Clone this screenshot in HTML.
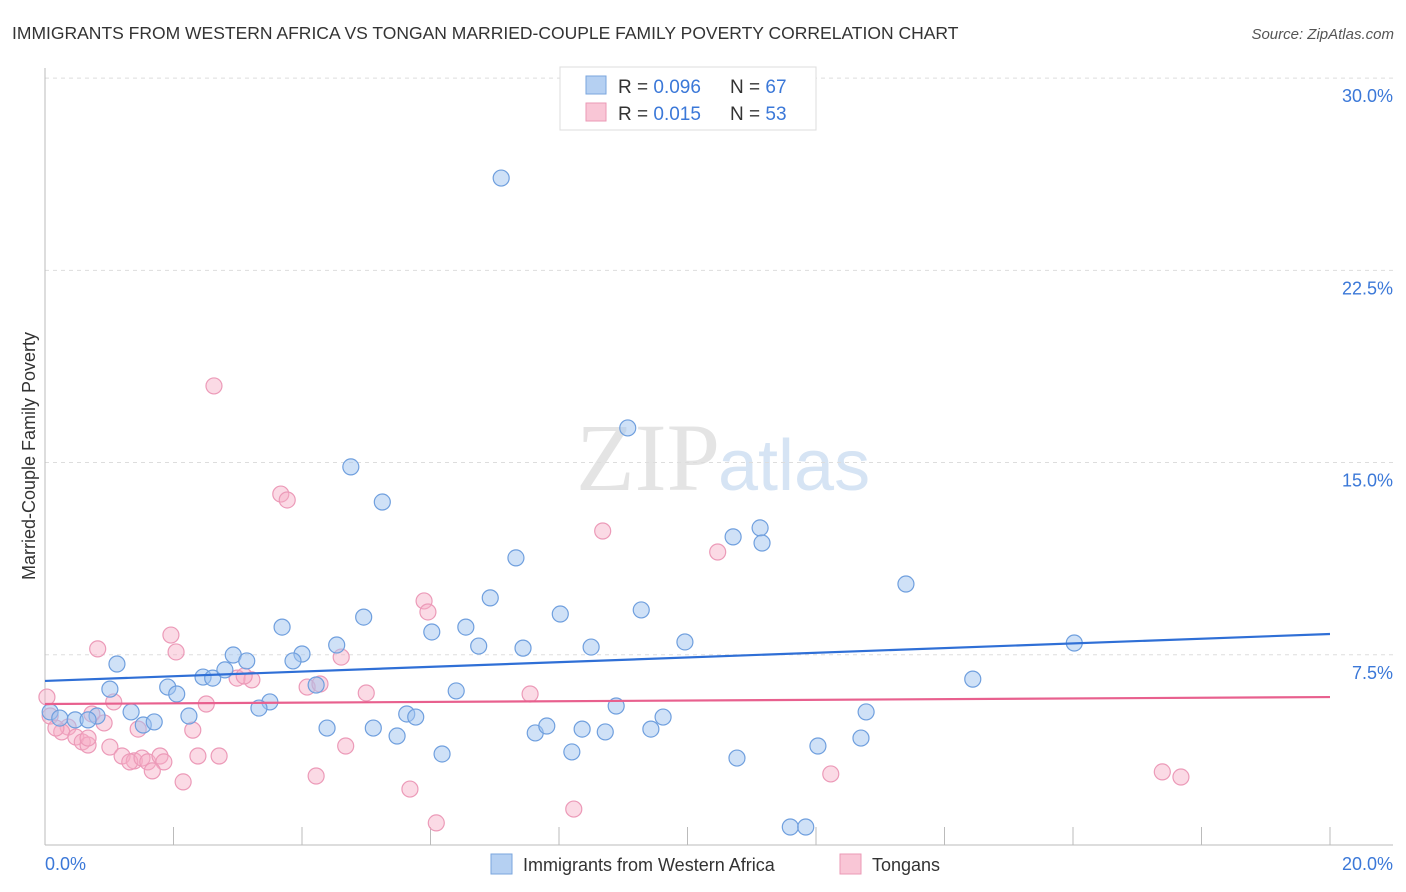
<!DOCTYPE html>
<html><head><meta charset="utf-8"><style>
body{margin:0;background:#fff;font-family:"Liberation Sans",sans-serif;}
#wrap{position:relative;width:1406px;height:892px;overflow:hidden;}
</style></head><body>
<div id="wrap">
<svg id="svg" width="1406" height="892" xmlns="http://www.w3.org/2000/svg">
<text x="12" y="39" font-size="17.5" fill="#333">IMMIGRANTS FROM WESTERN AFRICA VS TONGAN MARRIED-COUPLE FAMILY POVERTY CORRELATION CHART</text>
<text x="1394" y="39" font-size="15" fill="#555" font-style="italic" text-anchor="end">Source: ZipAtlas.com</text>
<text x="35" y="456" font-size="18" fill="#333" text-anchor="middle" transform="rotate(-90 35 456)">Married-Couple Family Poverty</text>
<text x="720" y="490" font-size="96" fill="#e4e4e4" text-anchor="end" font-family="Liberation Serif,serif">ZIP</text>
<text x="718" y="490" font-size="72" fill="#d6e4f4">atlas</text>
<g id="grid"></g><g id="pts"></g><g id="trend"></g>
<rect x="560" y="67" width="256" height="63" fill="#fff" stroke="#ddd"/>
<rect x="586" y="76" width="20" height="18" fill="#b5d0f2" stroke="#7aa6de"/>
<rect x="586" y="103" width="20" height="18" fill="#f9c6d6" stroke="#eb99b6"/>
<text x="618" y="93" font-size="19" fill="#333">R = <tspan fill="#3b78d8">0.096</tspan></text>
<text x="730" y="93" font-size="19" fill="#333">N = <tspan fill="#3b78d8">67</tspan></text>
<text x="618" y="120" font-size="19" fill="#333">R =  <tspan fill="#3b78d8">0.015</tspan></text>
<text x="730" y="120" font-size="19" fill="#333">N = <tspan fill="#3b78d8">53</tspan></text>
<rect x="491" y="854" width="21" height="20" fill="#b5d0f2" stroke="#7aa6de"/>
<text x="523" y="871" font-size="18" fill="#333">Immigrants from Western Africa</text>
<rect x="840" y="854" width="21" height="20" fill="#f9c6d6" stroke="#eb99b6"/>
<text x="872" y="871" font-size="18" fill="#333">Tongans</text>
</svg>
</div>
<script>
const blueX=[7.10,9.07,4.76,5.25,7.33,10.71,11.13,11.16,13.40,6.93,4.96,8.02,9.28,3.69,6.02,6.55,4.54,6.75,7.44,8.50,9.96,16.02,1.12,2.93,3.14,4.00,3.86,2.46,2.61,2.80,1.01,1.91,2.05,14.44,4.22,6.40,3.50,3.33,1.34,2.24,5.63,5.77,8.89,9.62,12.78,0.08,0.23,0.47,0.81,0.67,1.53,1.70,4.39,5.11,5.48,7.63,7.81,8.36,8.72,9.43,12.70,12.03,6.18,8.20,10.77,11.60,11.84];
const blueY=[26.1,16.35,14.83,13.46,11.28,12.10,12.45,11.86,10.26,9.72,8.97,9.09,9.25,8.58,8.39,8.58,7.88,7.84,7.76,7.80,8.00,7.96,7.14,7.49,7.26,7.53,7.26,6.63,6.59,6.91,6.16,6.24,5.97,6.55,6.32,6.09,5.66,5.42,5.27,5.11,5.19,5.07,5.50,5.07,5.27,5.27,5.03,4.96,5.11,4.96,4.76,4.88,4.64,4.64,4.33,4.45,4.72,4.60,4.49,4.60,4.25,3.94,3.63,3.71,3.47,0.78,0.78];
const pinkX=[2.63,3.67,3.77,8.68,10.47,5.90,5.96,1.96,0.82,2.04,4.61,2.99,3.22,3.10,2.51,4.08,4.28,5.00,7.55,0.03,1.07,0.08,0.73,0.92,0.36,0.26,0.48,0.58,0.67,1.45,2.30,1.01,1.20,1.39,1.32,1.51,1.60,1.79,1.85,1.67,2.38,2.71,2.15,4.22,4.68,5.68,8.23,6.09,12.23,17.39,17.68,0.67,0.17];
const pinkY=[17.99,13.77,13.54,12.33,11.51,9.60,9.17,8.27,7.73,7.61,7.41,6.59,6.52,6.67,5.58,6.24,6.36,6.01,5.97,5.85,5.66,5.11,5.19,4.84,4.68,4.49,4.29,4.10,3.98,4.60,4.56,3.90,3.55,3.36,3.32,3.47,3.32,3.55,3.32,2.97,3.55,3.55,2.54,2.77,3.94,2.26,1.48,0.94,2.85,2.93,2.73,4.25,4.64];
const blueTrend=[6.48,8.31];
const pinkTrend=[5.58,5.85];
const yTicks=[7.5,15,22.5,30];
const yTickLabels=["7.5%","15.0%","22.5%","30.0%"];
const xTicks=[0,2,4,6,8,10,12,14,16,18,20];
const NS="http://www.w3.org/2000/svg";
const sx=v=>45+v*64.25, sy=v=>847-v*25.63;
function mk(tag,attrs,parent){const e=document.createElementNS(NS,tag);for(const k in attrs)e.setAttribute(k,attrs[k]);document.getElementById(parent).appendChild(e);return e;}
const svg=document.getElementById('svg');
yTicks.forEach((t,i)=>{
 const l=mk('line',{x1:45,x2:1393,y1:sy(t),y2:sy(t),stroke:'#ddd','stroke-dasharray':'4,4'},'grid');
 
 
 const tx=mk('text',{x:1393,y:sy(t)+24,'font-size':18,fill:'#3b78d8','text-anchor':'end'},'grid');
 tx.textContent=yTickLabels[i];
 
 
});
const ax=mk('line',{x1:45,x2:45,y1:68,y2:845,stroke:'#bbb'},'grid');


const bx=mk('line',{x1:45,x2:1393,y1:845,y2:845,stroke:'#bbb'},'grid');


xTicks.forEach(t=>{
 const l=mk('line',{x1:sx(t),x2:sx(t),y1:827,y2:845,stroke:'#bbb'},'grid');
 
 
});
const xl0=mk('text',{x:45,y:870,'font-size':18,fill:'#3b78d8'},'grid');xl0.textContent=xTicks[0].toFixed(1)+'%';


const xl1=mk('text',{x:1393,y:870,'font-size':18,fill:'#3b78d8','text-anchor':'end'},'grid');xl1.textContent=xTicks[xTicks.length-1].toFixed(1)+'%';


pinkX.forEach((x,i)=>{
 const c=mk('circle',{cx:sx(x),cy:sy(pinkY[i]),r:8,fill:'rgba(246,172,198,0.45)',stroke:'#ec9ab8','stroke-width':1.2},'pts');
 
 
});
blueX.forEach((x,i)=>{
 const c=mk('circle',{cx:sx(x),cy:sy(blueY[i]),r:8,fill:'rgba(160,196,240,0.5)',stroke:'#6f9fde','stroke-width':1.2},'pts');
 
 
});
const tb=mk('line',{x1:sx(0),x2:sx(20),y1:sy(blueTrend[0]),y2:sy(blueTrend[1]),stroke:'#2f6fd6','stroke-width':2.2},'trend');


const tp=mk('line',{x1:sx(0),x2:sx(20),y1:sy(pinkTrend[0]),y2:sy(pinkTrend[1]),stroke:'#e8608e','stroke-width':2.2},'trend');


</script>
</body></html>
